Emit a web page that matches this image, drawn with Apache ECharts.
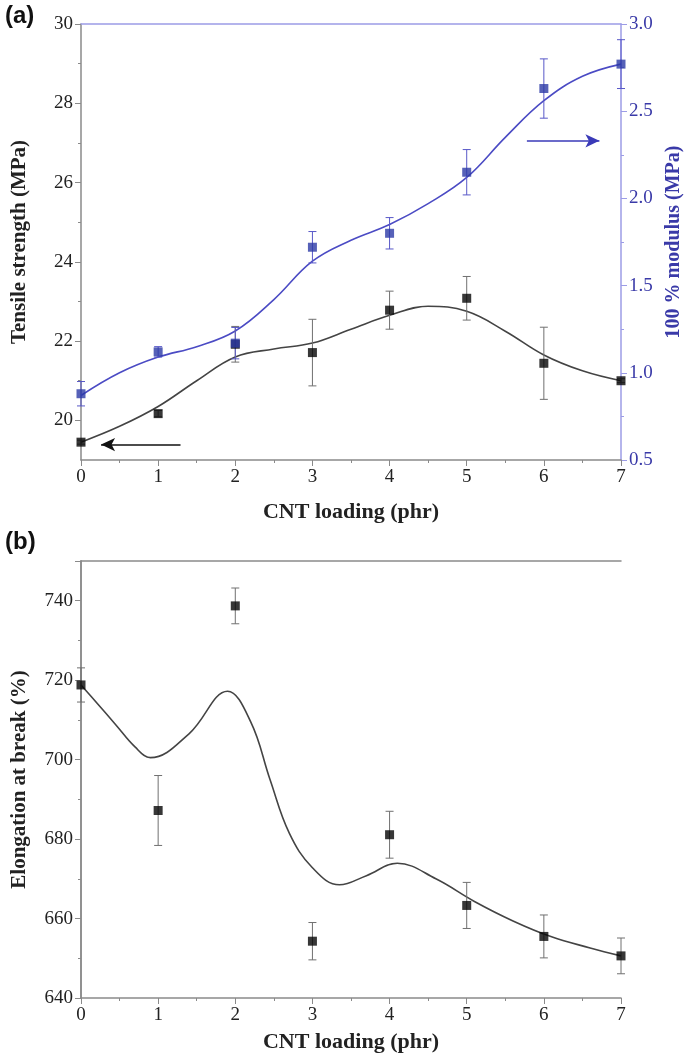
<!DOCTYPE html>
<html>
<head>
<meta charset="utf-8">
<script src="https://cdn.jsdelivr.net/npm/echarts@6/dist/echarts.min.js"></script>
<style>
  html,body{margin:0;padding:0;background:#fff;}
  #chart{width:687px;height:1060px;}
</style>
</head>
<body>
<div id="chart"></div>
<script>
// CNT loading (phr)
var loading=[0,1,2,3,4,5,6,7];

// (a) tensile strength, MPa, with error (+/-)
var tensile=[19.45,20.17,21.92,21.71,22.78,23.08,21.44,21.0];
var tensileErr=[0.05,0.08,0.45,0.84,0.48,0.55,0.91,0.05];
// (a) 100 % modulus, MPa, with error (+/-)
var modulus=[0.88,1.12,1.17,1.72,1.80,2.15,2.63,2.77];
var modulusErr=[0.07,0.03,0.09,0.09,0.09,0.13,0.17,0.14];

// fitted curves
var fitX=[0,0.5,1,1.5,2,2.5,3,3.5,4,4.5,5,5.5,6,6.5,7];
var tensileFit=[19.45,19.85,20.35,21.0,21.6,21.8,21.95,22.3,22.65,22.88,22.75,22.25,21.65,21.25,21.0];
var modulusFit=[0.87,1.0,1.09,1.15,1.24,1.42,1.64,1.76,1.85,1.97,2.12,2.35,2.56,2.70,2.77];

// (b) elongation at break, %, with error (+/-)
var elongation=[718.8,687.2,738.7,654.3,681.1,663.3,655.5,650.6];
var elongationErr=[4.3,8.8,4.5,4.7,5.9,5.8,5.4,4.5];
var elongFitX=[0,0.2,0.45,0.7,0.9,1.4,1.9,2.2,2.45,2.7,3.0,3.35,3.7,4.1,4.6,5.1,5.6,6.1,6.6,7];
var elongFit=[718.8,714.4,708.8,703.2,700.5,706.5,717.2,709.5,695.0,681.5,672.8,668.5,670.8,673.9,670.0,664.3,659.4,655.4,652.6,650.6];

// tick labels
var tensileTicks=[20,22,24,26,28,30];
var tensileMinor=[21,23,25,27,29];

var serif='"Liberation Serif","DejaVu Serif",serif';
var grayAxis='#8a8a8a';
var lavender='#9c9ce6';
var blueText='#3a3aa8';

function pairs(xs,ys){
	var out=[];
	for(var i=0;i<xs.length;i++){ out.push([xs[i],ys[i]]); }
	return out;
}
function triples(xs,ys,es){
	var out=[];
	for(var i=0;i<xs.length;i++){ out.push([xs[i],ys[i],es[i]]); }
	return out;
}

//误差棒
function errorBar(color){
	return function(params,api){
		var x=api.value(0),y=api.value(1),e=api.value(2);
		var hi=api.coord([x,y+e]);
		var lo=api.coord([x,y-e]);
		var hw=4;
		var st={stroke:color,lineWidth:1};
		return {type:'group',children:[
			{type:'line',shape:{x1:hi[0],y1:hi[1],x2:lo[0],y2:lo[1]},style:st},
			{type:'line',shape:{x1:hi[0]-hw,y1:hi[1],x2:hi[0]+hw,y2:hi[1]},style:st},
			{type:'line',shape:{x1:lo[0]-hw,y1:lo[1],x2:lo[0]+hw,y2:lo[1]},style:st}
		]};
	};
}

function tickLabel(){
	return {fontFamily:serif,fontSize:19,color:'#222'};
}

function xBottom(grid){
	return {
		type:'value',gridIndex:grid,min:0,max:7,interval:1,
		name:'CNT loading (phr)',nameLocation:'middle',nameGap:grid==0?41:33,
		nameTextStyle:{fontFamily:serif,fontSize:22,fontWeight:'bold',color:'#222'},
		axisLine:{onZero:false,lineStyle:{color:grayAxis,width:1.5}},
		axisTick:{length:6,lineStyle:{color:grayAxis}},
		minorTick:{show:true,splitNumber:2,length:3,lineStyle:{color:grayAxis}},
		axisLabel:tickLabel(),
		splitLine:{show:false}
	};
}

var tensileLabel=tickLabel();
tensileLabel.customValues=tensileTicks;
var elongLabel=tickLabel();
elongLabel.showMaxLabel=false;

var chart=echarts.init(document.getElementById('chart'));
var option={
	backgroundColor:'#fff',
	animation:false,
	graphic:[
		{type:'text',left:5,top:4,style:{text:'(a)',font:'bold 24px "Liberation Sans",Arial,sans-serif',fill:'#111'}},
		{type:'text',left:5,top:530,style:{text:'(b)',font:'bold 24px "Liberation Sans",Arial,sans-serif',fill:'#111'}}
	],
	grid:[
		{left:81,top:24,width:540,height:436,outerBoundsMode:'none',containLabel:false},
		{left:81,top:561,width:540,height:437,outerBoundsMode:'none',containLabel:false}
	],
	xAxis:[
		xBottom(0),
		{type:'value',gridIndex:0,position:'top',min:0,max:7,
			axisLine:{lineStyle:{color:lavender,width:1.5}},axisTick:{show:false},axisLabel:{show:false},splitLine:{show:false}},
		xBottom(1),
		{type:'value',gridIndex:1,position:'top',min:0,max:7,
			axisLine:{lineStyle:{color:grayAxis,width:1.5}},axisTick:{show:false},axisLabel:{show:false},splitLine:{show:false}}
	],
	yAxis:[
		{type:'value',gridIndex:0,position:'left',min:19,max:30,
			name:'Tensile strength (MPa)',nameLocation:'middle',nameGap:51,
			nameTextStyle:{fontFamily:serif,fontSize:21,fontWeight:'bold',color:'#222'},
			axisLine:{lineStyle:{color:grayAxis,width:1.5}},
			axisTick:{length:6,customValues:tensileTicks,lineStyle:{color:grayAxis}},
			axisLabel:tensileLabel,
			splitLine:{show:false}},
		{type:'value',gridIndex:0,position:'left',min:19,max:30,
			axisLine:{show:false},
			axisTick:{length:3,customValues:tensileMinor,lineStyle:{color:grayAxis}},
			axisLabel:{show:false},splitLine:{show:false}},
		{type:'value',gridIndex:0,position:'right',min:0.5,max:3.0,interval:0.5,
			name:'100 % modulus (MPa)',nameLocation:'middle',nameGap:35,nameRotate:90,
			nameTextStyle:{fontFamily:serif,fontSize:20,fontWeight:'bold',color:blueText},
			axisLine:{lineStyle:{color:lavender,width:1.5}},
			axisTick:{length:6,lineStyle:{color:lavender}},
			minorTick:{show:true,splitNumber:2,length:3,lineStyle:{color:lavender}},
			axisLabel:{fontFamily:serif,fontSize:19,color:blueText,formatter:function(v){return v.toFixed(1);}},
			splitLine:{show:false}},
		{type:'value',gridIndex:1,position:'left',min:640,max:750,interval:20,
			name:'Elongation at break (%)',nameLocation:'middle',nameGap:51,
			nameTextStyle:{fontFamily:serif,fontSize:21,fontWeight:'bold',color:'#222'},
			axisLine:{lineStyle:{color:grayAxis,width:1.5}},
			axisTick:{length:6,lineStyle:{color:grayAxis}},
			minorTick:{show:true,splitNumber:2,length:3,lineStyle:{color:grayAxis}},
			axisLabel:elongLabel,
			splitLine:{show:false}},
		{type:'value',gridIndex:1,position:'right',min:640,max:750,
			axisLine:{lineStyle:{color:grayAxis,width:1.5}},axisTick:{show:false},axisLabel:{show:false},splitLine:{show:false}}
	],
	series:[
		{type:'line',xAxisIndex:0,yAxisIndex:0,data:pairs(fitX,tensileFit),smooth:0.4,showSymbol:false,
			lineStyle:{color:'#444',width:1.6},z:2,
			markLine:{silent:true,symbol:['none','arrow'],symbolSize:[10,14],
				lineStyle:{color:'#111',width:1.5,type:'solid'},label:{show:false},
				data:[[{coord:[1.29,19.39]},{coord:[0.26,19.39]}]]}},
		{type:'line',xAxisIndex:0,yAxisIndex:2,data:pairs(fitX,modulusFit),smooth:0.4,showSymbol:false,
			lineStyle:{color:'#4b4bc4',width:1.6},z:2,
			markLine:{silent:true,symbol:['none','arrow'],symbolSize:[10,14],
				lineStyle:{color:'#3a3ab8',width:1.5,type:'solid'},label:{show:false},
				data:[[{coord:[5.78,2.33]},{coord:[6.72,2.33]}]]}},
		{type:'custom',xAxisIndex:0,yAxisIndex:0,renderItem:errorBar('#707070'),
			data:triples(loading,tensile,tensileErr),encode:{x:0,y:1},z:3},
		{type:'custom',xAxisIndex:0,yAxisIndex:2,renderItem:errorBar('#5858c8'),
			data:triples(loading,modulus,modulusErr),encode:{x:0,y:1},z:3},
		{type:'scatter',xAxisIndex:0,yAxisIndex:0,data:pairs(loading,tensile),symbol:'rect',symbolSize:[9,9],
			itemStyle:{color:'#050505'},z:4},
		{type:'scatter',xAxisIndex:0,yAxisIndex:2,data:pairs(loading,modulus),symbol:'rect',symbolSize:[9,9],
			itemStyle:{color:'#2c3aa6'},z:4},

		{type:'line',xAxisIndex:2,yAxisIndex:3,data:pairs(elongFitX,elongFit),smooth:0.4,showSymbol:false,
			lineStyle:{color:'#444',width:1.6},z:2},
		{type:'custom',xAxisIndex:2,yAxisIndex:3,renderItem:errorBar('#707070'),
			data:triples(loading,elongation,elongationErr),encode:{x:0,y:1},z:3},
		{type:'scatter',xAxisIndex:2,yAxisIndex:3,data:pairs(loading,elongation),symbol:'rect',symbolSize:[9,9],
			itemStyle:{color:'#050505'},z:4}
	]
};
chart.setOption(option);
</script>
</body>
</html>
